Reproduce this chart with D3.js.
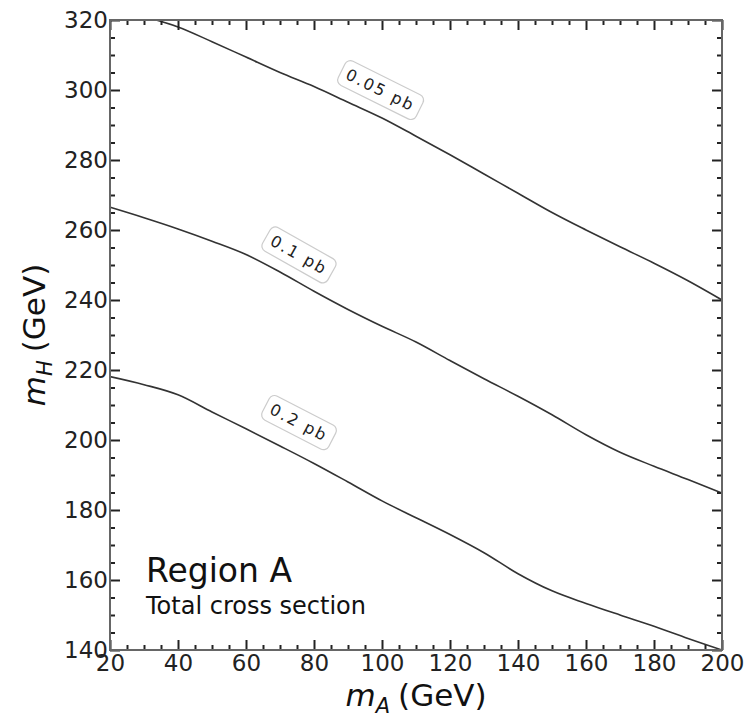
<!DOCTYPE html>
<html><head><meta charset="utf-8">
<script src="https://cdn.jsdelivr.net/npm/d3@7"></script>
<style>body{margin:0;background:#fff} svg{display:block}</style>
</head><body>
<svg id="chart" width="744" height="718"></svg>
<script>
// ---- data ----
const xTicks = [20, 40, 60, 80, 100, 120, 140, 160, 180, 200];
const yTicks = [140, 160, 180, 200, 220, 240, 260, 280, 300, 320];

const c005_mA = [30, 40, 50, 60, 70, 80, 90, 100, 110, 120, 130, 140, 150, 160, 170, 180, 190, 200];
const c005_mH = [321, 318, 313.8, 309.4, 305, 301, 296.5, 292, 286.8, 281.5, 276, 270.5, 265, 260, 255.2, 250.5, 245.5, 240];

const c01_mA = [20, 30, 40, 50, 60, 70, 80, 90, 100, 110, 120, 130, 140, 150, 160, 170, 180, 190, 200];
const c01_mH = [266.5, 263.5, 260.3, 256.8, 253, 248, 242.5, 237.3, 232.5, 228, 222.7, 217.5, 212.5, 207.2, 201.5, 196.5, 192.5, 188.7, 184.8];

const c02_mA = [20, 30, 40, 50, 60, 70, 80, 90, 100, 110, 120, 130, 140, 150, 160, 170, 180, 190, 200];
const c02_mH = [218.1, 215.8, 212.9, 208, 203.2, 198.3, 193.3, 188, 182.6, 177.8, 173, 167.8, 161.8, 156.9, 153.3, 150, 146.8, 143.3, 140];

const levelLabels = ["0.05 pb", "0.1 pb", "0.2 pb"];
const labelMA = [99.6, 75.6, 75.6];
const labelMH = [300, 252.9, 205];

const regionTitle = "Region A";
const regionSub = "Total cross section";

// ---- chart ----
const svg = d3.select("#chart");
const L = 110, R = 722, T = 20, B = 650;
const x = d3.scaleLinear().domain([20, 200]).range([L, R]);
const y = d3.scaleLinear().domain([140, 320]).range([B, T]);

svg.append("rect").attr("width", 744).attr("height", 718).attr("fill", "#fff");

svg.append("defs").append("clipPath").attr("id", "clip")
  .append("rect").attr("x", L).attr("y", T).attr("width", R - L).attr("height", B - T);

const curves = [
  {mA: c005_mA, mH: c005_mH},
  {mA: c01_mA, mH: c01_mH},
  {mA: c02_mA, mH: c02_mH}
];
const line = d3.line().x(d => x(d[0])).y(d => y(d[1])).curve(d3.curveMonotoneX);
const gCurves = svg.append("g").attr("clip-path", "url(#clip)");
curves.forEach(c => {
  gCurves.append("path")
    .attr("d", line(c.mA.map((v, i) => [v, c.mH[i]])))
    .attr("fill", "none").attr("stroke", "#333").attr("stroke-width", 1.6);
});

// axes (ticks inward)
const minorVals = d3.range(20, 201, 5).filter(v => v % 20 !== 0);
const minorY = d3.range(140, 321, 5).filter(v => v % 20 !== 0);
const tickFont = "DejaVu Sans, sans-serif";

function styleAxis(g) {
  g.select(".domain").remove();
  g.selectAll(".tick line").attr("stroke", "#222").attr("stroke-width", 2);
  g.selectAll(".tick text").attr("font-family", tickFont).attr("font-size", 23).attr("fill", "#222");
}

svg.append("g").attr("transform", `translate(0,${B})`)
  .call(d3.axisBottom(x).tickValues(xTicks).tickSize(-10).tickPadding(5).tickFormat(d3.format("d")))
  .call(styleAxis);
svg.append("g").attr("transform", `translate(0,${B})`)
  .call(d3.axisBottom(x).tickValues(minorVals).tickSize(-5).tickFormat(""))
  .call(styleAxis);
svg.append("g").attr("transform", `translate(0,${T})`)
  .call(d3.axisTop(x).tickValues(xTicks).tickSize(-10).tickFormat(""))
  .call(styleAxis);
svg.append("g").attr("transform", `translate(0,${T})`)
  .call(d3.axisTop(x).tickValues(minorVals).tickSize(-5).tickFormat(""))
  .call(styleAxis);
svg.append("g").attr("transform", `translate(${L},0)`)
  .call(d3.axisLeft(y).tickValues(yTicks).tickSize(-10).tickPadding(2).tickFormat(d3.format("d")))
  .call(styleAxis);
svg.append("g").attr("transform", `translate(${L},0)`)
  .call(d3.axisLeft(y).tickValues(minorY).tickSize(-5).tickFormat(""))
  .call(styleAxis);
svg.append("g").attr("transform", `translate(${R},0)`)
  .call(d3.axisRight(y).tickValues(yTicks).tickSize(-10).tickFormat(""))
  .call(styleAxis);
svg.append("g").attr("transform", `translate(${R},0)`)
  .call(d3.axisRight(y).tickValues(minorY).tickSize(-5).tickFormat(""))
  .call(styleAxis);

// frame
svg.append("rect").attr("x", L).attr("y", T).attr("width", R - L).attr("height", B - T)
  .attr("fill", "none").attr("stroke", "#666").attr("stroke-width", 2);

// contour labels
levelLabels.forEach((txt, i) => {
  const c = curves[i];
  const a = labelMA[i];
  const interp = v => d3.scaleLinear().domain(c.mA).range(c.mH)(v);
  const dx = x(a + 5) - x(a - 5), dy = y(interp(a + 5)) - y(interp(a - 5));
  const ang = Math.atan2(dy, dx) * 180 / Math.PI;
  const g = svg.append("g").attr("transform", `translate(${x(a)},${y(labelMH[i])}) rotate(${ang})`);
  const t = g.append("text").attr("text-anchor", "middle").attr("dy", "0.35em")
    .attr("font-family", tickFont).attr("font-size", 16).attr("letter-spacing", 2)
    .attr("fill", "#222").text(txt);
  const bb = t.node().getBBox();
  g.insert("rect", "text").attr("x", bb.x - 6).attr("y", bb.y - 4)
    .attr("width", bb.width + 12).attr("height", bb.height + 8)
    .attr("rx", 6).attr("fill", "#fff").attr("stroke", "#ccc").attr("stroke-width", 1.2);
});

// region text
svg.append("text").attr("x", 146).attr("y", 582).attr("font-family", tickFont)
  .attr("font-size", 33).attr("fill", "#111").text(regionTitle);
svg.append("text").attr("x", 146).attr("y", 614).attr("font-family", tickFont)
  .attr("font-size", 24).attr("fill", "#111").text(regionSub);

// axis titles
const xl = svg.append("text").attr("x", (L + R) / 2).attr("y", 706).attr("text-anchor", "middle")
  .attr("font-family", tickFont).attr("font-size", 31).attr("fill", "#111");
xl.append("tspan").attr("font-style", "italic").text("m");
xl.append("tspan").attr("font-size", 21).attr("font-style", "italic").attr("dy", 7).text("A");
xl.append("tspan").attr("dy", -7).attr("dx", 8).text("(GeV)");

const yl = svg.append("text").attr("transform", `translate(45,${(T + B) / 2}) rotate(-90)`)
  .attr("text-anchor", "middle").attr("font-family", tickFont).attr("font-size", 31).attr("fill", "#111");
yl.append("tspan").attr("font-style", "italic").text("m");
yl.append("tspan").attr("font-size", 21).attr("font-style", "italic").attr("dy", 7).text("H");
yl.append("tspan").attr("dy", -7).attr("dx", 8).text("(GeV)");
</script>
</body></html>
